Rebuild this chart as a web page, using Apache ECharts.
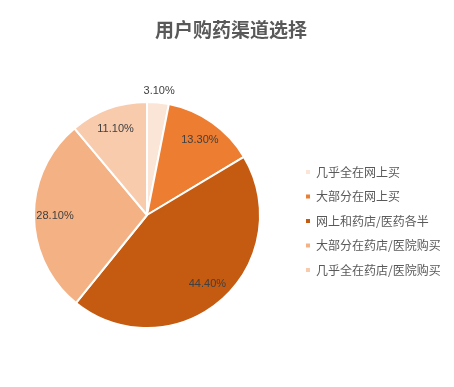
<!DOCTYPE html>
<html><head><meta charset="utf-8">
<script src="https://cdn.jsdelivr.net/npm/echarts@6/dist/echarts.min.js"></script>
<style>html,body{margin:0;padding:0;background:#fff}#c{width:454px;height:387px}</style>
</head><body><div id="c"></div>
<script>
const categories = ['几乎全在网上买','大部分在网上买','网上和药店/医药各半','大部分在药店/医院购买','几乎全在药店/医院购买'];
const values = [3.1, 13.3, 44.4, 28.1, 11.1];
const colors = ['#FBE5D6','#ED7D31','#C55A11','#F4B183','#F8CBAD'];
const title = '用户购药渠道选择';

const data = categories.map((n,i)=>({name:n,value:values[i],itemStyle:{color:colors[i]}}));
const center = [147, 215];
const fmt = p => p.value.toFixed(2) + '%';
const labelStyle = {color:'#404040', fontSize:11, fontFamily:'Liberation Sans, Arial, sans-serif'};
const chart = echarts.init(document.getElementById('c'), null, {renderer:'canvas'});
chart.setOption({
  animation:false,
  color: colors,
  title:{text:title,left:'center',left:226,textAlign:'center',top:15,
    textStyle:{fontSize:19,fontWeight:'bold',color:'#595959',fontFamily:'Noto Sans CJK SC, sans-serif'}},
  legend:{orient:'vertical',left:299,top:161,itemWidth:6,itemHeight:6,itemGap:12.5,icon:'rect',
    data:categories,
    textStyle:{fontSize:12,color:'#595959',fontFamily:'Noto Sans CJK SC, sans-serif',padding:[0,0,0,0]}},
  series:[
    {type:'pie',center:center,radius:[0,113],startAngle:90,clockwise:true,
     itemStyle:{borderColor:'#fff',borderWidth:2},label:{show:false},labelLine:{show:false},
     emphasis:{disabled:true},data:data},
    {type:'pie',center:center,radius:[0,178],startAngle:90,clockwise:true,silent:true,
     legendHoverLink:false,
     itemStyle:{color:'rgba(0,0,0,0)',borderWidth:0},
     label:{show:true,position:'inside',formatter:p=>p.dataIndex===0?'':fmt(p),...labelStyle},
     labelLine:{show:false},emphasis:{disabled:true},
     data:categories.map((n,i)=>({name:n+' ',value:values[i]}))},
    {type:'pie',center:center,radius:[0,244],startAngle:90,clockwise:true,silent:true,
     itemStyle:{color:'rgba(0,0,0,0)',borderWidth:0},
     label:{show:true,position:'inside',formatter:p=>p.dataIndex===0?fmt(p):'',...labelStyle},
     labelLine:{show:false},emphasis:{disabled:true},
     data:categories.map((n,i)=>({name:n+'  ',value:values[i]}))}
  ]
});
</script></body></html>
